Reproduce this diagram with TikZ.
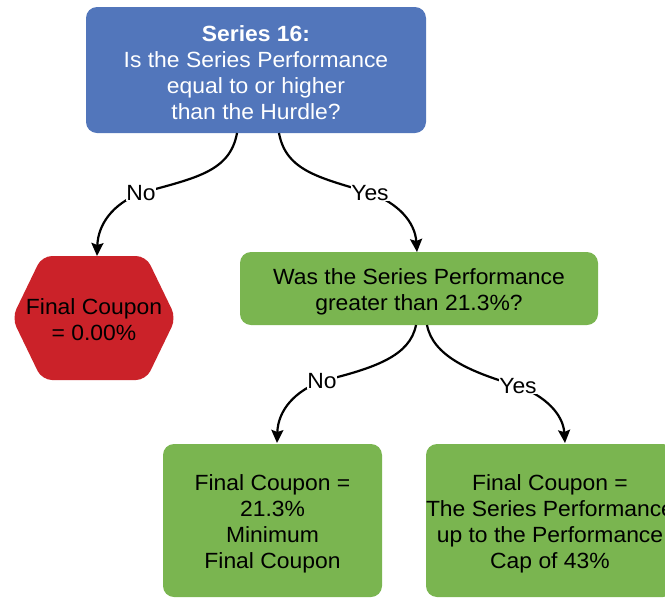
\documentclass[tikz,border=0pt]{standalone}
\usepackage{fontspec}
\setmainfont{Liberation Sans}[FakeStretch=1.04]
\usetikzlibrary{arrows.meta}
\definecolor{bluebox}{RGB}{82,118,187}
\definecolor{greenbox}{RGB}{122,181,80}
\definecolor{redhex}{RGB}{203,34,41}
\newcommand\downstrut{\rule{0pt}{22pt}}
\tikzset{
  boxbase/.style={rounded corners=11pt, inner sep=0pt, align=center, font=\fontsize{22}{26}\selectfont},
  bluestyle/.style={boxbase, fill=bluebox, text=white},
  greenstyle/.style={boxbase, fill=greenbox, text=black},
  lbl/.style={fill=white, inner sep=0.5pt, font=\fontsize{22}{26}\selectfont},
  arr/.style={line width=2.2pt, -{Stealth[length=13pt,width=12pt,inset=2pt]}},
  seg/.style={line width=2.2pt}
}
\begin{document}
\begin{tikzpicture}[x=1pt,y=-1pt]
\useasboundingbox (0,0) rectangle (665,598);
\clip (0,0) rectangle (665,598);
% boxes
\node[bluestyle, minimum width=340pt, minimum height=126pt] (top) at (256,70)
  {\downstrut\textbf{Series 16:}\\Is the Series Performance\\equal to or higher\\than the Hurdle?};
\node[greenstyle, minimum width=358pt, minimum height=73pt] (mid) at (419,288.5)
  {\downstrut Was the Series Performance\\greater than 21.3\%?};
\node[greenstyle, minimum width=219pt, minimum height=153pt] (bl) at (272.5,520.5)
  {\downstrut Final Coupon =\\21.3\%\\Minimum\\Final Coupon};
\node[greenstyle, minimum width=246pt, minimum height=153pt] (br) at (550,520.5)
  {\downstrut Final Coupon =\\The Series Performance\\up to the Performance\\Cap of 43\%};
% hexagon
\fill[redhex, rounded corners=10pt] (42,256) -- (146,256) -- (176,318) -- (146,380) -- (42,380) -- (12,318) -- cycle;
\node[align=center, inner sep=0pt, font=\fontsize{22}{26}\selectfont] (hex) at (94,320) {Final Coupon\\= 0.00\%};
% anchor coordinates
\coordinate (s1) at (237,133);
\coordinate (s2) at (279,133);
\coordinate (s3) at (416,325);
\coordinate (s4) at (427,325);
\coordinate (e1) at (97,256);
\coordinate (e2) at (417,252);
\coordinate (e3) at (277,443);
\coordinate (e4) at (565,443);
\coordinate (l1) at (141,193);
\coordinate (l2) at (370,193);
\coordinate (l3) at (322,381);
\coordinate (l4) at (518,386);
% connectors
\draw[seg] (s1) .. controls (230,172) and (195,178) .. (l1);
\draw[arr] (l1) .. controls (112,204) and (98,225) .. (e1);
\draw[seg] (s2) .. controls (286,172) and (322,178) .. (l2);
\draw[arr] (l2) .. controls (398,203) and (415,222) .. (e2);
\draw[seg] (s3) .. controls (410,356) and (375,368) .. (l3);
\draw[arr] (l3) .. controls (295,391) and (278,410) .. (e3);
\draw[seg] (s4) .. controls (433,356) and (470,372) .. (l4);
\draw[arr] (l4) .. controls (545,396) and (563,414) .. (e4);
% labels
\node[lbl] (no1) at (l1) {No};
\node[lbl] (yes1) at (l2) {Yes};
\node[lbl] (no2) at (l3) {No};
\node[lbl] (yes2) at (l4) {Yes};
\end{tikzpicture}
\end{document}
